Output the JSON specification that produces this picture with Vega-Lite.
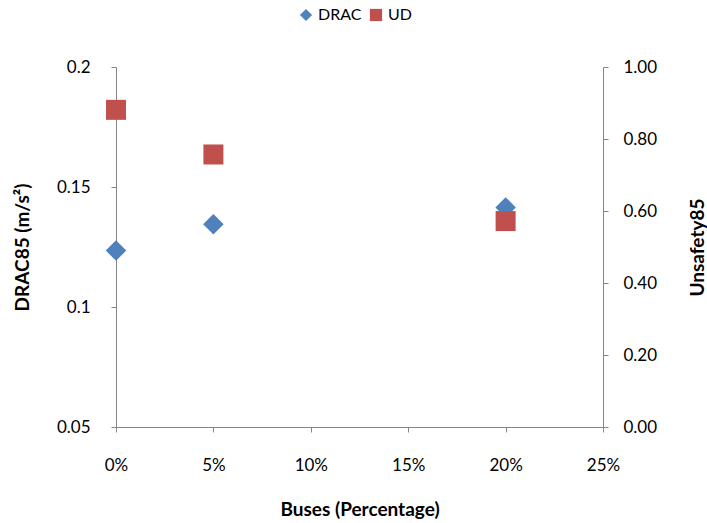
{
  "$schema": "https://vega.github.io/schema/vega-lite/v6.json",
  "autosize": "none",
  "width": 487,
  "height": 360,
  "padding": {"left": 116, "top": 67, "right": 104, "bottom": 96},
  "background": "white",
  "config": {
    "view": {"stroke": null},
    "font": "Lato",
    "axis": {
      "grid": false,
      "labelFlush": false,
      "domainColor": "#868686",
      "tickColor": "#868686",
      "tickSize": 5,
      "labelFont": "Lato",
      "labelFontSize": 17,
      "labelColor": "#000000",
      "titleFont": "Lato",
      "titleFontSize": 19,
      "titleFontWeight": "bold",
      "titleColor": "#000000"
    }
  },
  "data": {
    "values": [
      {"buses": 0.0, "series": "DRAC", "value": 0.1235},
      {"buses": 0.05, "series": "DRAC", "value": 0.1345},
      {"buses": 0.2, "series": "DRAC", "value": 0.1415},
      {"buses": 0.0, "series": "UD", "value": 0.881},
      {"buses": 0.05, "series": "UD", "value": 0.757},
      {"buses": 0.2, "series": "UD", "value": 0.572}
    ]
  },
  "encoding": {
    "x": {
      "field": "buses",
      "type": "quantitative",
      "scale": {"domain": [0, 0.25], "nice": false},
      "axis": {
        "values": [0, 0.05, 0.1, 0.15, 0.2, 0.25],
        "format": ".0%",
        "labelPadding": 25,
        "title": "Buses (Percentage)",
        "titleX": 243.5,
        "titleY": 82,
        "titleAlign": "center",
        "titleBaseline": "middle"
      }
    },
    "color": {
      "field": "series",
      "type": "nominal",
      "scale": {"domain": ["DRAC", "UD"], "range": ["#4F81BD", "#C0504D"]},
      "legend": {
        "title": null,
        "orient": "none",
        "direction": "horizontal",
        "legendX": 182,
        "legendY": -60,
        "labelFont": "Lato",
        "labelFontSize": 16,
        "labelColor": "#000000",
        "symbolSize": 150,
        "columnPadding": 6,
        "labelOffset": 4
      }
    },
    "shape": {
      "field": "series",
      "type": "nominal",
      "scale": {"domain": ["DRAC", "UD"], "range": ["diamond", "square"]},
      "legend": {
        "title": null,
        "orient": "none",
        "direction": "horizontal",
        "legendX": 182,
        "legendY": -60,
        "labelFont": "Lato",
        "labelFontSize": 16,
        "labelColor": "#000000",
        "symbolSize": 150,
        "columnPadding": 6,
        "labelOffset": 4
      }
    }
  },
  "layer": [
    {
      "transform": [{"filter": "datum.series === 'DRAC'"}],
      "mark": {"type": "point", "filled": true, "opacity": 1, "size": 420},
      "encoding": {
        "y": {
          "field": "value",
          "type": "quantitative",
          "scale": {"domain": [0.05, 0.2], "nice": false, "zero": false},
          "axis": {
            "orient": "left",
            "values": [0.05, 0.1, 0.15, 0.2],
            "format": ".2~f",
            "labelPadding": 21,
            "title": "DRAC85 (m/s²)",
            "titleX": -94,
            "titleY": 180,
            "titleAngle": 270,
            "titleAlign": "center",
            "titleBaseline": "middle"
          }
        }
      }
    },
    {
      "transform": [{"filter": "datum.series === 'UD'"}],
      "mark": {"type": "point", "filled": true, "opacity": 1, "size": 400},
      "encoding": {
        "y": {
          "field": "value",
          "type": "quantitative",
          "scale": {"domain": [0, 1], "nice": false},
          "axis": {
            "orient": "right",
            "values": [0, 0.2, 0.4, 0.6, 0.8, 1.0],
            "format": ".2f",
            "labelPadding": 15,
            "title": "Unsafety85",
            "titleX": 94,
            "titleY": 180,
            "titleAngle": 270,
            "titleAlign": "center",
            "titleBaseline": "middle"
          }
        }
      }
    }
  ],
  "resolve": {"scale": {"y": "independent"}}
}
